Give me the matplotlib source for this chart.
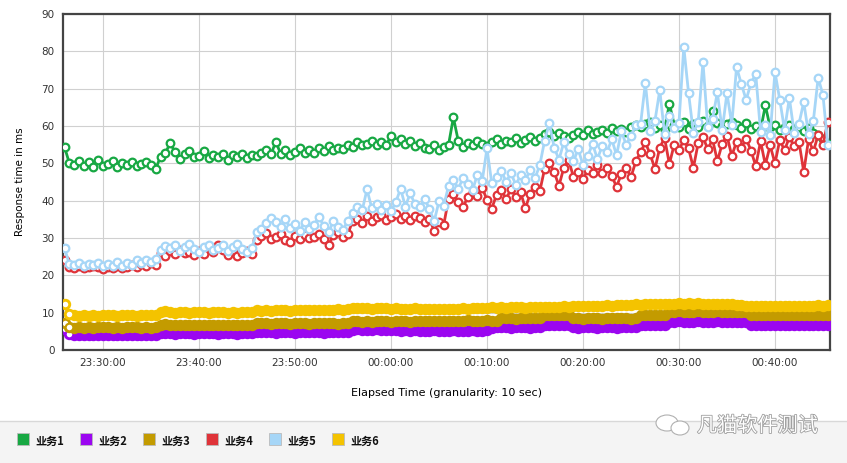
import numpy as np
import pandas as pd
import matplotlib
import matplotlib.pyplot as plt
import matplotlib.patheffects as pe
from matplotlib.patches import Rectangle, Ellipse

plt.rcParams['font.family'] = ['DejaVu Sans', 'Noto Sans CJK SC']

# 30 s samples, 23:26:00 -> 00:45:30 (one row = 10 minutes)
start = "2020-01-01 23:26:00"
n_points = 160

s1 = [  # 业务1
    54.3, 50.0, 49.5, 50.5, 49.2, 50.3, 49.0, 50.8, 49.4, 49.8, 50.6, 49.1, 50.2, 49.6, 50.4, 49.2, 49.8, 50.3, 49.5, 48.6,
    51.8, 52.8, 55.4, 53.0, 51.2, 52.5, 53.3, 51.6, 52.0, 53.4, 51.3, 52.1, 51.8, 52.6, 51.0, 52.2, 51.7, 52.4, 51.5, 52.3,
    52.0, 52.8, 53.5, 52.4, 55.8, 52.6, 53.7, 52.3, 53.1, 54.0, 52.8, 53.6, 52.9, 54.2, 53.3, 54.6, 53.5, 54.2, 53.8, 55.0,
    54.5, 55.6, 54.8, 55.3, 56.1, 55.0, 55.8, 54.9, 57.3, 55.6, 56.4, 55.2, 56.0, 54.6, 55.5, 54.2, 53.8, 54.9, 53.6, 54.3,
    55.0, 62.3, 56.1, 54.5, 55.4, 54.8, 56.0, 55.3, 54.6, 55.8, 56.4, 55.2, 56.0, 55.6, 56.8, 55.5, 56.3, 57.0, 56.1, 56.8,
    57.8, 58.5, 57.2, 58.0, 57.4, 56.8, 57.6, 58.3, 57.5, 58.8, 57.9, 58.4, 59.0, 58.2, 59.4, 58.6, 59.1, 58.4, 59.6, 60.3,
    59.8, 60.5, 61.2, 59.4, 60.2, 58.8, 66.0, 60.4, 59.6, 61.0, 59.2, 60.6, 59.8, 61.4, 60.0, 64.0, 60.8, 59.9, 60.5, 61.2,
    60.2, 59.5, 60.8, 59.3, 60.1, 58.9, 65.5, 59.6, 60.3, 58.8, 59.7, 60.4, 59.1, 59.8, 58.6, 59.5, 58.2, 57.5, 56.4, 55.2,
]
s2 = [  # 业务2
    5.6, 4.2, 4.0, 4.0, 3.9, 4.0, 4.1, 4.0, 3.9, 4.0, 4.0, 4.1, 4.0, 3.9, 4.0, 4.1, 4.0, 4.0, 4.1, 4.0,
    4.5, 4.6, 4.5, 4.4, 4.5, 4.6, 4.5, 4.4, 4.5, 4.5, 4.6, 4.5, 4.4, 4.5, 4.6, 4.5, 4.4, 4.5, 4.5, 4.6,
    4.8, 4.7, 4.8, 4.7, 4.6, 4.7, 4.8, 4.7, 4.6, 4.7, 4.8, 4.7, 4.8, 4.7, 4.6, 4.7, 4.8, 4.7, 4.8, 4.7,
    5.4, 5.5, 5.4, 5.3, 5.4, 5.5, 5.4, 5.3, 5.4, 5.3, 5.2, 5.3, 5.2, 5.3, 5.2, 5.1, 5.2, 5.3, 5.2, 5.2,
    5.2, 5.3, 5.2, 5.1, 5.2, 5.3, 5.2, 5.2, 5.3, 6.0, 6.1, 6.2, 6.1, 6.0, 6.1, 6.2, 6.1, 6.0, 6.1, 6.1,
    6.7, 6.8, 6.7, 6.6, 6.7, 6.7, 6.1, 6.0, 6.1, 6.2, 6.1, 6.0, 6.1, 6.2, 6.1, 6.0, 6.1, 6.2, 6.1, 6.1,
    6.7, 6.8, 6.7, 6.6, 6.7, 6.8, 7.5, 7.6, 7.7, 7.6, 7.5, 7.6, 7.7, 7.6, 7.5, 7.6, 7.7, 7.6, 7.5, 7.6,
    7.6, 7.5, 7.6, 6.8, 6.7, 6.6, 6.7, 6.8, 6.7, 6.6, 6.7, 6.8, 6.7, 6.6, 6.7, 6.8, 6.7, 6.6, 6.7, 6.7,
]
s3 = [  # 业务3
    7.2, 6.2, 6.0, 6.1, 6.0, 6.1, 6.0, 6.1, 6.2, 6.1, 6.0, 6.1, 6.0, 6.1, 6.2, 6.1, 6.0, 6.1, 6.0, 6.1,
    6.8, 6.9, 6.7, 6.6, 6.7, 6.8, 6.7, 6.6, 6.7, 6.8, 6.7, 6.6, 6.7, 6.6, 6.7, 6.8, 6.7, 6.6, 6.7, 6.7,
    7.3, 7.2, 7.1, 7.0, 7.1, 7.2, 7.1, 7.0, 7.1, 7.2, 7.1, 7.0, 7.1, 7.2, 7.1, 7.2, 7.1, 7.0, 7.1, 7.2,
    7.7, 7.8, 7.6, 7.7, 7.6, 7.7, 7.8, 7.7, 7.6, 7.7, 7.8, 7.7, 7.6, 7.7, 7.8, 7.7, 7.8, 7.7, 7.8, 7.7,
    7.8, 7.9, 7.8, 7.9, 8.0, 7.9, 7.8, 7.9, 8.0, 7.9, 7.9, 8.5, 8.6, 8.5, 8.4, 8.5, 8.6, 8.5, 8.6, 8.5,
    9.3, 9.4, 9.5, 9.4, 9.3, 9.4, 8.6, 8.5, 8.4, 8.5, 8.6, 8.5, 8.4, 8.5, 8.6, 8.5, 8.6, 8.5, 8.4, 8.5,
    9.3, 9.4, 9.5, 9.4, 9.3, 9.4, 10.2, 10.3, 10.4, 10.3, 10.2, 10.3, 10.4, 10.3, 10.2, 10.3, 10.4, 10.3, 10.2, 10.3,
    10.3, 10.2, 10.3, 9.5, 9.4, 9.3, 9.4, 9.5, 9.4, 9.3, 9.4, 9.3, 9.4, 9.5, 9.4, 9.3, 9.4, 9.5, 9.4, 9.4,
]
s4 = [  # 业务4
    24.0, 22.3, 22.0, 22.4, 21.9, 22.2, 22.6, 22.1, 21.8, 22.3, 22.0, 22.5, 21.9, 22.2, 22.7, 22.3, 23.0, 22.6, 23.2, 22.8,
    26.0, 25.3, 26.4, 25.6, 26.8, 25.9, 26.2, 25.4, 26.6, 25.8, 27.6, 26.3, 28.0, 26.9, 25.5, 26.7, 25.2, 25.9, 26.4, 25.8,
    29.5, 30.6, 31.4, 29.8, 30.2, 31.0, 29.4, 28.8, 30.5, 29.6, 30.8, 29.9, 30.4, 31.2, 29.7, 28.0, 30.9, 31.5, 30.2, 31.0,
    34.5, 35.2, 34.0, 35.8, 34.6, 35.5, 36.2, 34.8, 35.6, 36.4, 35.1, 35.9, 34.7, 36.0, 35.3, 34.2, 35.0, 32.0, 34.4, 33.6,
    40.5, 41.8, 39.6, 38.3, 40.9, 42.4, 41.2, 43.5, 40.2, 37.9, 41.6, 42.8, 40.4, 43.2, 41.0, 42.2, 38.0, 41.8, 43.6, 42.5,
    48.5, 50.2, 47.6, 44.0, 48.8, 51.0, 46.4, 47.8, 45.9, 48.2, 47.4, 49.6, 47.3, 48.8, 46.6, 43.7, 47.2, 48.8, 46.3, 50.5,
    53.0, 55.6, 52.4, 48.5, 54.2, 56.8, 49.8, 55.0, 53.6, 56.2, 54.0, 48.8, 55.4, 57.0, 53.8, 56.4, 50.6, 55.2, 57.4, 52.0,
    55.8, 54.2, 56.6, 53.4, 49.3, 55.9, 49.6, 54.8, 50.0, 56.2, 53.5, 57.0, 54.6, 55.8, 47.7, 56.4, 53.2, 57.6, 55.0, 61.0,
]
s5 = [  # 业务5
    27.2, 23.0, 22.8, 23.4, 22.6, 23.1, 22.7, 23.3, 22.5, 23.0, 22.6, 23.5, 22.4, 23.2, 22.8, 24.0, 23.3, 24.2, 23.6, 24.4,
    26.8, 27.8, 27.2, 28.1, 26.6, 27.5, 28.4, 27.0, 26.3, 27.7, 28.2, 26.9, 27.4, 28.0, 26.5, 27.6, 28.5, 27.1, 26.2, 27.3,
    31.5, 32.4, 34.0, 35.4, 34.2, 33.0, 35.0, 32.6, 33.8, 31.8, 34.4, 32.5, 33.6, 35.6, 33.2, 31.6, 34.5, 33.0, 32.2, 34.6,
    36.8, 38.2, 37.4, 43.0, 38.0, 39.2, 37.6, 38.8, 37.2, 39.6, 43.2, 38.4, 42.0, 39.0, 38.2, 40.5, 37.8, 34.5, 39.8, 38.6,
    44.0, 45.6, 43.2, 46.0, 44.4, 42.8, 47.0, 45.2, 54.0, 44.6, 46.4, 48.0, 45.0, 47.4, 44.2, 46.8, 45.5, 48.2, 46.0, 49.5,
    56.0, 60.8, 54.2, 51.0, 55.6, 52.4, 50.5, 53.8, 49.6, 52.0, 55.2, 51.2, 54.6, 53.0, 56.4, 52.2, 58.6, 55.0, 57.4, 60.2,
    60.5, 71.5, 58.6, 61.4, 69.6, 57.8, 62.6, 59.4, 60.8, 81.2, 68.8, 58.2, 61.0, 77.1, 59.6, 62.0, 69.0, 58.8, 68.8, 60.4,
    75.8, 71.2, 67.0, 71.5, 73.9, 58.4, 60.2, 57.6, 74.5, 67.0, 59.0, 67.5, 58.2, 60.6, 66.4, 57.8, 61.4, 72.9, 68.3, 55.0,
]
s6 = [  # 业务6
    12.2, 9.6, 9.3, 9.2, 9.3, 9.2, 9.3, 9.2, 9.3, 9.4, 9.3, 9.2, 9.3, 9.4, 9.3, 9.2, 9.3, 9.4, 9.3, 9.4,
    10.2, 10.4, 10.1, 10.0, 10.1, 10.2, 10.0, 10.1, 10.2, 10.1, 10.0, 10.1, 10.2, 10.1, 10.0, 10.1, 10.0, 10.1, 10.2, 10.1,
    10.7, 10.5, 10.6, 10.5, 10.6, 10.7, 10.6, 10.5, 10.6, 10.7, 10.8, 10.7, 10.6, 10.7, 10.8, 10.7, 10.8, 10.9, 10.8, 10.9,
    11.3, 11.2, 11.3, 11.2, 11.1, 11.2, 11.3, 11.2, 11.1, 11.2, 11.1, 11.0, 11.1, 11.2, 11.1, 11.0, 11.1, 11.0, 11.1, 11.0,
    11.1, 11.0, 11.1, 11.2, 11.1, 11.2, 11.3, 11.2, 11.3, 11.4, 11.3, 11.4, 11.3, 11.4, 11.5, 11.4, 11.3, 11.4, 11.5, 11.4,
    11.5, 11.6, 11.5, 11.6, 11.7, 11.6, 11.7, 11.8, 11.7, 11.8, 11.9, 11.8, 11.9, 12.0, 11.9, 12.0, 12.1, 12.0, 12.1, 12.2,
    12.1, 12.2, 12.3, 12.2, 12.3, 12.4, 12.3, 12.4, 12.5, 12.4, 12.5, 12.4, 12.5, 12.4, 12.3, 12.4, 12.3, 12.4, 12.3, 12.2,
    12.1, 12.0, 11.9, 11.8, 11.9, 11.8, 11.7, 11.8, 11.7, 11.8, 11.9, 11.8, 11.7, 11.8, 11.9, 11.8, 11.9, 12.0, 11.9, 12.1,
]

names = ["业务1", "业务2", "业务3", "业务4", "业务5", "业务6"]
colors = ["#17a843", "#9b06f0", "#c39b00", "#df3339", "#a6d6f7", "#f4c300"]
series = [s1, s2, s3, s4, s5, s6]
# the low, flat series look like solid bands in the original (dense markers)
dense = [False, True, True, False, False, True]

tick_times = ["2020-01-01 23:30:00", "2020-01-01 23:40:00", "2020-01-01 23:50:00",
              "2020-01-02 00:00:00", "2020-01-02 00:10:00", "2020-01-02 00:20:00",
              "2020-01-02 00:30:00", "2020-01-02 00:40:00"]
tick_labels = ["23:30:00", "23:40:00", "23:50:00", "00:00:00",
               "00:10:00", "00:20:00", "00:30:00", "00:40:00"]

t = pd.date_range(start, periods=n_points, freq="30s")

fig = plt.figure(figsize=(8.47, 4.63), dpi=100)
ax = fig.add_axes([63 / 847, 1 - 350 / 463, (830 - 63) / 847, (350 - 14) / 463])

for vals, c, d in zip(series, colors, dense):
    if d:
        ax.plot(t, vals, color=c, lw=3, marker="o", ms=6.8, mfc=c,
                mec=c, mew=1.4, zorder=3)
        # first sample stands out with an open marker
        ax.plot(t[:2], vals[:2], color=c, lw=1.5, marker="o", ms=5.5, mfc="white",
                mec=c, mew=1.5, zorder=3)
    else:
        ax.plot(t, vals, color=c, lw=2, marker="o", ms=5.5, mfc="white",
                mec=c, mew=1.6, zorder=3)

ax.set_ylim(0, 90)
ax.set_yticks(range(0, 91, 10))
ax.set_xlim(pd.Timestamp("2020-01-01 23:25:50"), pd.Timestamp("2020-01-02 00:45:44"))
ax.set_xticks(pd.to_datetime(tick_times))
ax.set_xticklabels(tick_labels)
ax.grid(True, color="#d0d0d0", lw=0.8)
ax.set_axisbelow(True)
ax.tick_params(length=0, labelsize=7.5, colors="#333333", pad=6)
for sp in ax.spines.values():
    sp.set_color("#444444")
    sp.set_linewidth(1.6)

ax.set_xlabel("Elapsed Time (granularity: 10 sec)", fontsize=8, labelpad=14)
ax.set_ylabel("Response time in ms", fontsize=7.5, labelpad=12)

# legend strip at the bottom
fig.patches.append(Rectangle((0, 0), 1, 1 - 421 / 463, transform=fig.transFigure,
                             facecolor="#f4f4f4", edgecolor="none", zorder=0))
fig.lines.append(matplotlib.lines.Line2D([0, 1], [1 - 421 / 463] * 2, transform=fig.transFigure,
                                         color="#d8d8d8", lw=1))
swatch_x = [17, 80, 143, 206, 269, 332]
for px, name, c in zip(swatch_x, names, colors):
    fig.patches.append(Rectangle((px / 847, 1 - 445 / 463), 12 / 847, 12 / 463,
                                 transform=fig.transFigure, facecolor=c,
                                 edgecolor="#bbbbbb", lw=0.6))
    fig.text((px + 18) / 847, 1 - 441 / 463, name, fontsize=8, fontweight="bold",
             family=["Noto Sans CJK SC", "DejaVu Sans"], va="center", color="#111111")

# watermark with a rough chat-bubble icon
for cx, cy, w, h in [(667, 423, 22, 16), (680, 428, 18, 14)]:
    fig.patches.append(Ellipse((cx / 847, 1 - cy / 463), w / 847, h / 463,
                               transform=fig.transFigure, facecolor="white",
                               edgecolor="#b0b0b0", lw=0.8, zorder=2))
wm = fig.text(697 / 847, 1 - 426 / 463, "凡猫软件测试", fontsize=14.5, color="white",
              family=["Noto Sans CJK SC", "DejaVu Sans"], va="center")
wm.set_path_effects([pe.withStroke(linewidth=1.2, foreground="#a0a0a0")])

fig.savefig("out.png", dpi=100)
